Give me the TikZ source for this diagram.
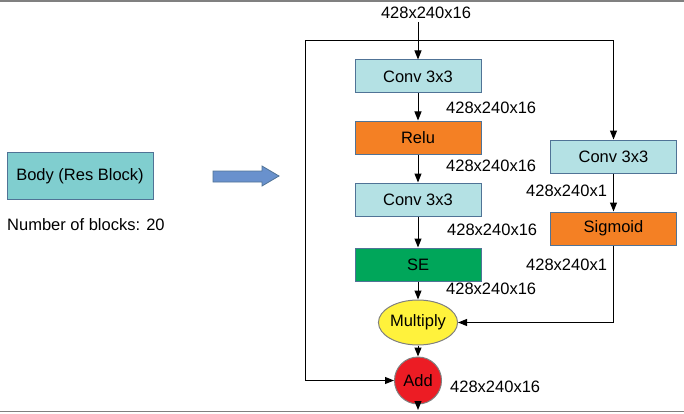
\documentclass[tikz,border=0pt]{standalone}
\usepackage{fontspec}
\setmainfont{Liberation Sans}
\usetikzlibrary{positioning, arrows.meta, shapes.geometric}
\definecolor{convc}{RGB}{180,225,228}
\definecolor{bodyc}{RGB}{128,206,207}
\definecolor{reluc}{RGB}{244,128,36}
\definecolor{sec}{RGB}{0,166,90}
\definecolor{mulc}{RGB}{255,242,60}
\definecolor{addc}{RGB}{236,28,36}
\definecolor{edgec}{RGB}{80,115,150}
\definecolor{arrc}{RGB}{105,145,205}
\begin{document}
\begin{tikzpicture}[x=1pt, y=1pt,
     node distance = 27pt and 27pt,
every node/.style = {font=\fontsize{16.5}{19}\selectfont},
        box/.style = {rectangle, draw=edgec, line width=1pt, minimum width=126pt, minimum height=33pt},
       conv/.style = {box, fill=convc},
       relu/.style = {box, fill=reluc},
        lbl/.style = {anchor=west, inner sep=0pt},
        >={Triangle[length=9pt,width=7pt]}
                        ]
\useasboundingbox (0,0) rectangle (684,413);
\draw[gray, line width=1.5pt] (0,412) -- (684,412);
\draw[gray, line width=1.5pt] (0,1.5) -- (684,1.5);
\node (body)[box, fill=bodyc, minimum width=146pt, minimum height=47pt] at (80,237) {Body (Res Block)};
\node (nblk)[lbl] at (7,188) {Number of blocks: 20};
\filldraw[fill=arrc, draw=edgec, line width=0.8pt] (213,231) -- (262,231) -- (262,227) -- (279,237)
   -- (262,247) -- (262,242) -- (213,242) -- cycle;
\node (conv1)[conv] at (418,336.5) {Conv 3x3};
\node (relu1)[relu, below=27pt of conv1] {Relu};
\node (conv2)[conv, below=28pt of relu1] {Conv 3x3};
\node (se)[box, fill=sec, below=31pt of conv2] {SE};
\node (mul)[ellipse, draw=gray, line width=1pt, fill=mulc, minimum width=74pt, minimum height=45pt,
            inner sep=0pt, below=18pt of se] {Multiply};
\node (add)[circle, draw=gray, line width=1pt, fill=addc, minimum size=47pt, inner sep=0pt,
            below=11pt of mul] {Add};
\node (rconv)[conv] at (613.5,256.5) {Conv 3x3};
\node (sig)[relu, below=38pt of rconv] {Sigmoid};
\node (tin) at (426,400) [inner sep=0pt] {428x240x16};
\node (l1)[lbl] at (446,305.5) {428x240x16};
\node (l2)[lbl] at (446,247) {428x240x16};
\node (l3)[lbl] at (447,183) {428x240x16};
\node (l4)[lbl] at (446,124) {428x240x16};
\node (l5)[lbl] at (450,26.5) {428x240x16};
\node (r1)[lbl] at (526,222) {428x240x1};
\node (r2)[lbl] at (526,148.5) {428x240x1};
\coordinate (in) at (418,391);
\coordinate (split) at (418,372);
\coordinate (skip) at (305,372);
\coordinate (out) at (418,3);
\draw[line width=1pt, ->] (in) -- (conv1);
\draw[line width=1pt, ->] (split) -| (rconv);
\draw[line width=1pt, ->] (split) -- (skip) |- (add);
\draw[line width=1pt, ->] (conv1) -- (relu1);
\draw[line width=1pt, ->] (relu1) -- (conv2);
\draw[line width=1pt, ->] (conv2) -- (se);
\draw[line width=1pt, ->] (se) -- (mul);
\draw[line width=1pt, ->] (mul) -- (add);
\draw[line width=1pt, ->] (add) -- (out);
\draw[line width=1pt, ->] (rconv) -- (sig);
\draw[line width=1pt, ->] (sig) |- (mul);
\end{tikzpicture}
\end{document}
